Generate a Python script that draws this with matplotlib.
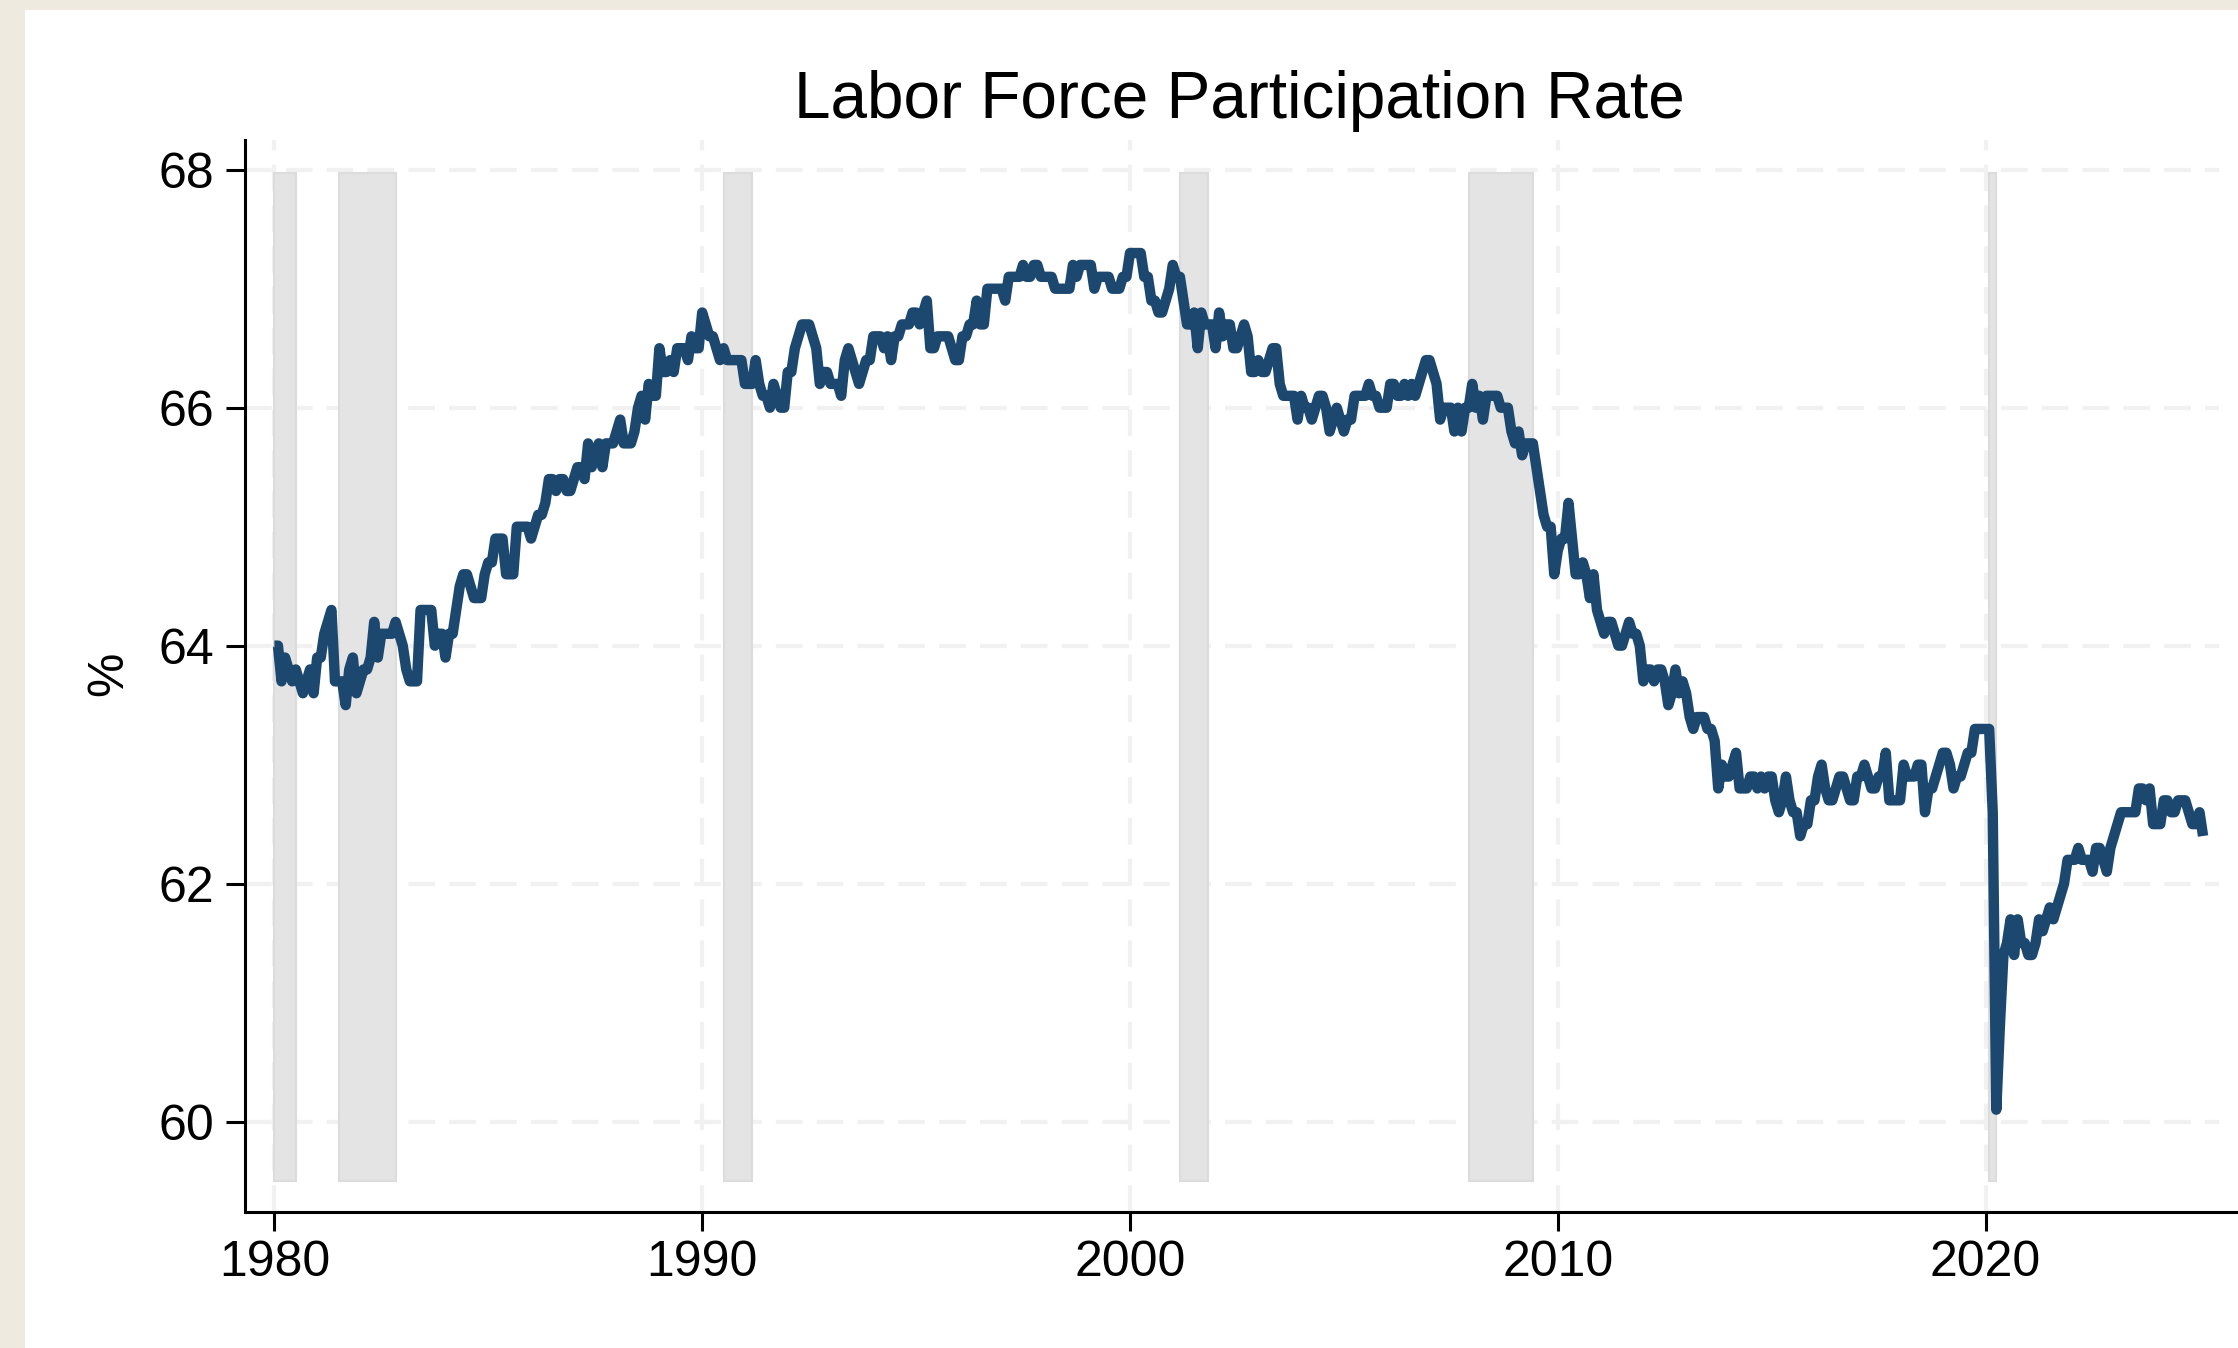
import numpy as np
import matplotlib
matplotlib.use("Agg")
import matplotlib.pyplot as plt
from matplotlib.patches import Rectangle

# ---------------- data ----------------
title = "Labor Force Participation Rate"
y_label = "%"
start_year = 1980  # first value is January of this year, monthly data

lfpr_1980s = [
    64.0, 64.0, 63.7, 63.9, 63.8, 63.7, 63.8, 63.7, 63.6, 63.7, 63.8, 63.6,
    63.9, 63.9, 64.1, 64.2, 64.3, 63.7, 63.7, 63.7, 63.5, 63.8, 63.9, 63.6,
    63.7, 63.8, 63.8, 63.9, 64.2, 63.9, 64.1, 64.1, 64.1, 64.1, 64.2, 64.1,
    64.0, 63.8, 63.7, 63.7, 63.7, 64.3, 64.3, 64.3, 64.3, 64.0, 64.1, 64.1,
    63.9, 64.1, 64.1, 64.3, 64.5, 64.6, 64.6, 64.5, 64.4, 64.4, 64.4, 64.6,
    64.7, 64.7, 64.9, 64.9, 64.9, 64.6, 64.6, 64.6, 65.0, 65.0, 65.0, 65.0,
    64.9, 65.0, 65.1, 65.1, 65.2, 65.4, 65.4, 65.3, 65.4, 65.4, 65.3, 65.3,
    65.4, 65.5, 65.5, 65.4, 65.7, 65.5, 65.6, 65.7, 65.5, 65.7, 65.7, 65.7,
    65.8, 65.9, 65.7, 65.7, 65.7, 65.8, 66.0, 66.1, 65.9, 66.2, 66.1, 66.1,
    66.5, 66.3, 66.3, 66.4, 66.3, 66.5, 66.5, 66.5, 66.4, 66.6, 66.5, 66.5,
]
lfpr_1990s = [
    66.8, 66.7, 66.6, 66.6, 66.5, 66.4, 66.5, 66.4, 66.4, 66.4, 66.4, 66.4,
    66.2, 66.2, 66.2, 66.4, 66.2, 66.1, 66.1, 66.0, 66.2, 66.1, 66.0, 66.0,
    66.3, 66.3, 66.5, 66.6, 66.7, 66.7, 66.7, 66.6, 66.5, 66.2, 66.3, 66.3,
    66.2, 66.2, 66.2, 66.1, 66.4, 66.5, 66.4, 66.3, 66.2, 66.3, 66.4, 66.4,
    66.6, 66.6, 66.6, 66.5, 66.6, 66.4, 66.6, 66.6, 66.7, 66.7, 66.7, 66.8,
    66.8, 66.7, 66.8, 66.9, 66.5, 66.5, 66.6, 66.6, 66.6, 66.6, 66.5, 66.4,
    66.4, 66.6, 66.6, 66.7, 66.7, 66.9, 66.7, 66.7, 67.0, 67.0, 67.0, 67.0,
    67.0, 66.9, 67.1, 67.1, 67.1, 67.1, 67.2, 67.1, 67.1, 67.2, 67.2, 67.1,
    67.1, 67.1, 67.1, 67.0, 67.0, 67.0, 67.0, 67.0, 67.2, 67.1, 67.2, 67.2,
    67.2, 67.2, 67.0, 67.1, 67.1, 67.1, 67.1, 67.0, 67.0, 67.0, 67.1, 67.1,
]
lfpr_2000s = [
    67.3, 67.3, 67.3, 67.3, 67.1, 67.1, 66.9, 66.9, 66.8, 66.8, 66.9, 67.0,
    67.2, 67.1, 67.1, 66.9, 66.7, 66.7, 66.8, 66.5, 66.8, 66.7, 66.7, 66.7,
    66.5, 66.8, 66.6, 66.7, 66.7, 66.5, 66.5, 66.6, 66.7, 66.6, 66.3, 66.3,
    66.4, 66.3, 66.3, 66.4, 66.5, 66.5, 66.2, 66.1, 66.1, 66.1, 66.1, 65.9,
    66.1, 66.0, 66.0, 65.9, 66.0, 66.1, 66.1, 66.0, 65.8, 65.9, 66.0, 65.9,
    65.8, 65.9, 65.9, 66.1, 66.1, 66.1, 66.1, 66.2, 66.1, 66.1, 66.0, 66.0,
    66.0, 66.2, 66.2, 66.1, 66.1, 66.2, 66.1, 66.2, 66.1, 66.2, 66.3, 66.4,
    66.4, 66.3, 66.2, 65.9, 66.0, 66.0, 66.0, 65.8, 66.0, 65.8, 66.0, 66.0,
    66.2, 66.0, 66.1, 65.9, 66.1, 66.1, 66.1, 66.1, 66.0, 66.0, 66.0, 65.8,
    65.7, 65.8, 65.6, 65.7, 65.7, 65.7, 65.5, 65.3, 65.1, 65.0, 65.0, 64.6,
]
lfpr_2010s = [
    64.8, 64.9, 64.9, 65.2, 64.9, 64.6, 64.6, 64.7, 64.6, 64.4, 64.6, 64.3,
    64.2, 64.1, 64.2, 64.2, 64.1, 64.0, 64.0, 64.1, 64.2, 64.1, 64.1, 64.0,
    63.7, 63.8, 63.8, 63.7, 63.8, 63.8, 63.7, 63.5, 63.6, 63.8, 63.6, 63.7,
    63.6, 63.4, 63.3, 63.4, 63.4, 63.4, 63.3, 63.3, 63.2, 62.8, 63.0, 62.9,
    62.9, 63.0, 63.1, 62.8, 62.8, 62.8, 62.9, 62.9, 62.8, 62.9, 62.8, 62.9,
    62.9, 62.7, 62.6, 62.7, 62.9, 62.7, 62.6, 62.6, 62.4, 62.5, 62.5, 62.7,
    62.7, 62.9, 63.0, 62.8, 62.7, 62.7, 62.8, 62.9, 62.9, 62.8, 62.7, 62.7,
    62.9, 62.9, 63.0, 62.9, 62.8, 62.8, 62.9, 62.9, 63.1, 62.7, 62.7, 62.7,
    62.7, 63.0, 62.9, 62.9, 62.9, 63.0, 63.0, 62.6, 62.8, 62.8, 62.9, 63.0,
    63.1, 63.1, 63.0, 62.8, 62.9, 62.9, 63.0, 63.1, 63.1, 63.3, 63.3, 63.3,
]
lfpr_2020s = [
    63.3, 63.3, 62.6, 60.1, 60.8, 61.4, 61.5, 61.7, 61.4, 61.7, 61.5, 61.5,
    61.4, 61.4, 61.5, 61.7, 61.6, 61.7, 61.8, 61.7, 61.8, 61.9, 62.0, 62.2,
    62.2, 62.2, 62.3, 62.2, 62.2, 62.2, 62.1, 62.3, 62.3, 62.2, 62.1, 62.3,
    62.4, 62.5, 62.6, 62.6, 62.6, 62.6, 62.6, 62.8, 62.8, 62.7, 62.8, 62.5,
    62.5, 62.5, 62.7, 62.7, 62.6, 62.6, 62.7, 62.7, 62.7, 62.6, 62.5, 62.5,
    62.6, 62.4,
]

# NBER recessions (year, month) of peak and trough
recession_start = [(1980, 1), (1981, 7), (1990, 7), (2001, 3), (2007, 12), (2020, 2)]
recession_end = [(1980, 7), (1982, 11), (1991, 3), (2001, 11), (2009, 6), (2020, 4)]

x_ticks = [1980, 1990, 2000, 2010, 2020]
y_ticks = [60, 62, 64, 66, 68]

# ---------------- style ----------------
plt.rcParams['font.family'] = ['Liberation Sans', 'DejaVu Sans']
LINE = '#1C4870'
GRID = '#F1F1F1'
SHADE = '#E4E4E4'
BEIGE = '#EEEAE0'

values = np.array(lfpr_1980s + lfpr_1990s + lfpr_2000s + lfpr_2010s + lfpr_2020s)
dates = start_year + np.arange(len(values)) / 12.0

W, H = 2238, 1348
fig = plt.figure(figsize=(W / 100, H / 100), dpi=100, facecolor=BEIGE)
bg = Rectangle((25 / W, 0), 1 - 25 / W, 1 - 10 / H,
               transform=fig.transFigure, facecolor='white',
               edgecolor='none', zorder=-10)
fig.add_artist(bg)

ax_left, ax_right, ax_top, ax_bottom = 245, 2238, 140, 1212
ax = fig.add_axes([ax_left / W, 1 - ax_bottom / H, (ax_right - ax_left) / W,
                   (ax_bottom - ax_top) / H])
ax.set_zorder(5)
ax.set_facecolor('none')

x0, x1 = 1979.313, 2025.9
y0, y1 = 59.24, 68.25
ax.set_xlim(x0, x1)
ax.set_ylim(y0, y1)

# grid
for yv in y_ticks:
    ax.hlines(yv, x0, 2025.45, color=GRID, lw=3, linestyles=[(0, (6.4, 3.4))],
              zorder=1)
for xv in x_ticks:
    ax.vlines(xv, y0, y1, color=GRID, lw=3, linestyles=[(0, (6.4, 3.4))],
              zorder=1)

# recession shading
for (sy, sm), (ey, em) in zip(recession_start, recession_end):
    s = sy + (sm - 1) / 12.0
    e = ey + (em - 1) / 12.0
    ax.add_patch(Rectangle((s, 59.5), e - s, 67.97 - 59.5, facecolor=SHADE,
                           edgecolor='#DCDCDC', lw=1.5, zorder=2))

ax.plot(dates, values, color=LINE, lw=7.5, solid_joinstyle='round',
        solid_capstyle='butt', zorder=3)

for side in ['top', 'right']:
    ax.spines[side].set_visible(False)
for side in ['left', 'bottom']:
    ax.spines[side].set_linewidth(2.2)
    ax.spines[side].set_color('black')

ax.set_xticks(x_ticks)
ax.set_yticks(y_ticks)
ax.set_xticklabels([str(t) for t in x_ticks])
ax.set_yticklabels([str(t) for t in y_ticks])
ax.tick_params(axis='both', direction='out', length=14, width=2.2,
               labelsize=36, colors='black')
ax.tick_params(axis='x', pad=6)
ax.tick_params(axis='y', pad=8)

fig.text(109 / W, 1 - 674 / H, y_label, rotation=90, ha='center', va='center',
         fontsize=36)
fig.text(1239 / W, 1 - 118 / H, title, ha='center', va='baseline', fontsize=47.3)

fig.savefig('out.png', dpi=100, facecolor=fig.get_facecolor())
